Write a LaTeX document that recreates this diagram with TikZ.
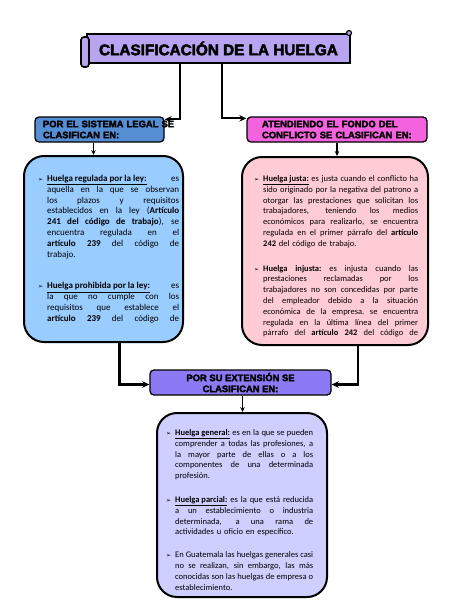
\documentclass[tikz,border=0pt]{standalone}
\usepackage{fontspec}
\setmainfont{Carlito}
\newfontfamily\heavyfont[BoldFeatures={FakeBold=3}]{Liberation Sans}
\newfontfamily\symfont{DejaVu Sans}
\usetikzlibrary{arrows.meta,positioning,calc}

\definecolor{scrollviolet}{RGB}{184,164,240}
\definecolor{legalblue}{RGB}{86,142,212}
\definecolor{legalsky}{RGB}{153,204,255}
\definecolor{fondopink}{RGB}{244,98,222}
\definecolor{fondorose}{RGB}{255,204,214}
\definecolor{extviolet}{RGB}{140,122,245}
\definecolor{extlilac}{RGB}{206,206,255}

% one justified line, one last line, one bullet
\newlength{\colw}
\newcommand{\jline}[1]{\par\noindent{\spaceskip=0.22em plus 4em minus 0.05em\xspaceskip=\spaceskip
    \hbox to\colw{#1}}\par}
\newcommand{\eline}[1]{\par\noindent\hbox{#1}\par}
\newcommand{\bul}{\llap{{\symfont\fontsize{6}{6}\selectfont ➢}\hspace{4pt}}}

\tikzset{
    headbox/.style={draw=black, line width=1.3pt, rounded corners=4pt,
        minimum height=25pt, inner sep=0pt,
        font=\heavyfont\bfseries\fontsize{9.4}{11}\selectfont},
    bodybox/.style={draw=black, line width=2pt, rounded corners=20pt, inner sep=0pt},
    bodytext/.style={anchor=north west, inner sep=0pt,
        font=\fontsize{8.5}{10.8}\selectfont},
    conn/.style={-{Stealth[length=7pt,width=6.5pt]}, line width=2.2pt},
    downarrow/.style={-{Stealth[length=5pt,width=4.5pt]}, line width=1.3pt}
}

\begin{document}
\begin{tikzpicture}[x=1pt, y=-1pt]
    \useasboundingbox (0,0) rectangle (474,613);

    % Title scroll
    \node[draw=black, line width=1.8pt, fill=scrollviolet, inner sep=0pt,
        minimum width=263pt, minimum height=29pt,
        font=\heavyfont\bfseries\fontsize{15.3}{17}\selectfont] (title) at (218.5,48.5) {CLASIFICACIÓN DE LA HUELGA};
    \draw[line width=1.6pt, fill=scrollviolet, rounded corners=3pt] (81,37) rectangle (89,67);
    \draw[line width=1.2pt, fill=scrollviolet] (349,33) circle (2.5pt);

    % Headers
    \node[headbox, fill=legalblue, minimum width=129pt, text width=113pt, align=left] (legal) at (99.5,129.5) {\mbox{POR EL SISTEMA LEGAL SE}\\CLASIFICAN EN:};
    \node[headbox, fill=fondopink, minimum width=180pt, text width=150pt, align=left] (fondo) at (337,129.5) {\mbox{ATENDIENDO EL FONDO DEL}\\\mbox{CONFLICTO SE CLASIFICAN EN:}};
    \node[headbox, fill=extviolet, minimum width=181pt, align=center] (ext) at (240.5,382.5) {POR SU EXTENSIÓN SE\\CLASIFICAN EN:};

    % Boxes
    \node[bodybox, fill=legalsky, minimum width=159pt, minimum height=186pt] (regbox) at (103.5,249) {};
    \node[bodybox, fill=fondorose, minimum width=186pt, minimum height=188pt] (fondobox) at (335,251) {};
    \node[bodybox, fill=extlilac, minimum width=170pt, minimum height=184pt] (extbox) at (242,505) {};

    % Texts
    \node[bodytext, text width=132pt, font=\fontsize{9}{10.8}\selectfont] (regtext) at (47,170.5) {%
        \setlength{\colw}{132pt}%
        \jline{\bul\underline{\textbf{Huelga regulada por la ley:}} es}
        \jline{aquella en la que se observan}
        \jline{los plazos y requisitos}
        \jline{establecidos en la ley (\textbf{Artículo}}
        \jline{\textbf{241 del código de trabajo}), se}
        \jline{encuentra regulada en el}
        \jline{\textbf{artículo 239} del código de}
        \eline{trabajo.}
        \vspace{21pt}
        \jline{\bul\underline{\textbf{Huelga prohibida por la ley:}} es}
        \jline{la que no cumple con los}
        \jline{requisitos que establece el}
        \jline{\textbf{artículo 239} del código de}};
    \node[bodytext, text width=155pt] (fondotext) at (263,170.5) {%
        \setlength{\colw}{155pt}%
        \jline{\bul\underline{\textbf{Huelga justa:}} es justa cuando el conflicto ha}
        \jline{sido originado por la negativa del patrono a}
        \jline{otorgar las prestaciones que solicitan los}
        \jline{trabajadores, teniendo los medios}
        \jline{económicos para realizarlo, se encuentra}
        \jline{regulada en el primer párrafo del \textbf{artículo}}
        \eline{\textbf{242} del código de trabajo.}
        \vspace{14pt}
        \jline{\bul\textbf{Huelga injusta:} es injusta cuando las}
        \jline{prestaciones reclamadas por los}
        \jline{trabajadores no son concedidas por parte}
        \jline{del empleador debido a la situación}
        \jline{económica de la empresa. se encuentra}
        \jline{regulada en la última línea del primer}
        \jline{párrafo del \textbf{artículo 242} del código de}};
    \node[bodytext, text width=138pt] (exttext) at (175,424.5) {%
        \setlength{\colw}{138pt}%
        \jline{\bul\underline{\textbf{Huelga general:}} es en la que se pueden}
        \jline{comprender a todas las profesiones, a}
        \jline{la mayor parte de ellas o a los}
        \jline{componentes de una determinada}
        \eline{profesión.}
        \vspace{13pt}
        \jline{\bul\underline{\textbf{Huelga parcial:}} es la que está reducida}
        \jline{a un establecimiento o industria}
        \jline{determinada, a una rama de}
        \eline{actividades u oficio en específico.}
        \vspace{12pt}
        \jline{\bul En Guatemala las huelgas generales casi}
        \jline{no se realizan, sin embargo, las más}
        \jline{conocidas son las huelgas de empresa o}
        \eline{establecimiento.}};

    % Connectors
    \draw[conn] ([xshift=-38.5pt]title.south) |- ([yshift=-3pt]legal.north east);
    \draw[conn] ([xshift=3.5pt]title.south) |- ([yshift=-2pt]fondo.north west);
    \draw[downarrow] ([xshift=-6pt]legal.south) -- ([xshift=-6pt]legal.south |- regbox.north);
    \draw[downarrow] (fondo.south) -- (fondo.south |- fondobox.north);
    \draw[conn] ([xshift=16pt]regbox.south) |- ([yshift=-2pt]ext.west);
    \draw[conn] ([xshift=23pt]fondobox.south) |- ([yshift=-2pt]ext.east);
    \draw[downarrow] ([xshift=2pt]ext.south) -- ([xshift=2pt]ext.south |- extbox.north);
\end{tikzpicture}
\end{document}
